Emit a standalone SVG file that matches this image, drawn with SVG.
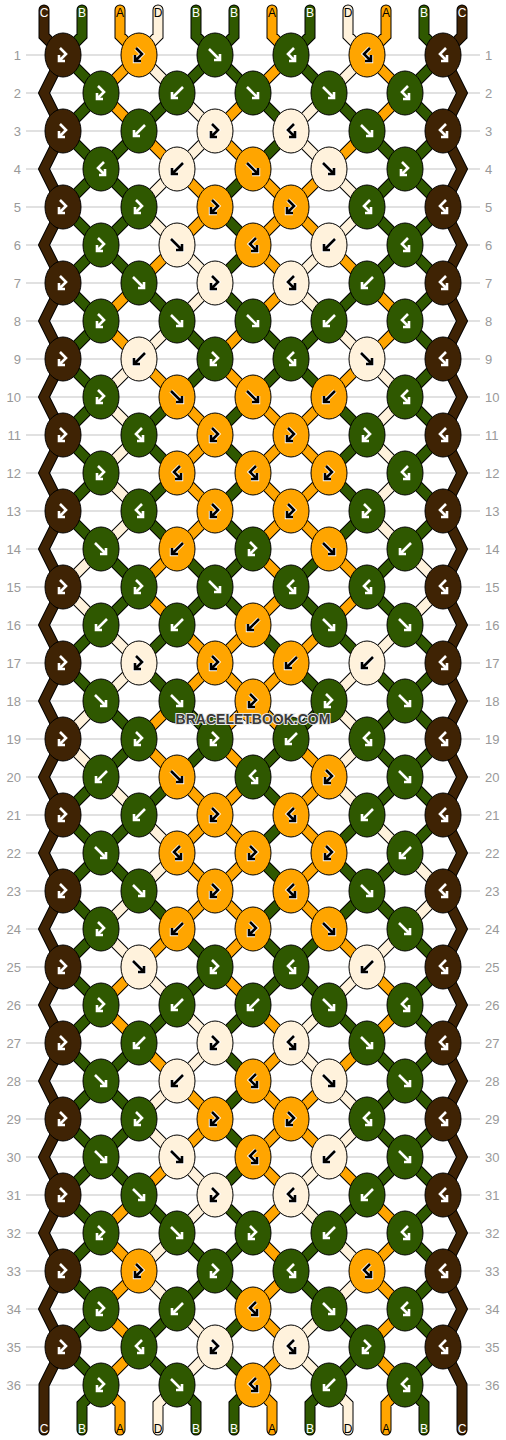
<svg xmlns="http://www.w3.org/2000/svg" xmlns:xlink="http://www.w3.org/1999/xlink" width="506" height="1440" viewBox="0 0 506 1440">
<style>
.ol{fill:none;stroke:#000;stroke-width:11;stroke-linecap:round;stroke-linejoin:miter}
.sC,.sB,.sA,.sD{fill:none;stroke-width:9;stroke-linecap:round;stroke-linejoin:miter}
.sC{stroke:#3f2304}.sB{stroke:#2f5800}.sA{stroke:#ffa500}.sD{stroke:#fff2dc}
.C{fill:#3f2304}.B{fill:#2f5800}.A{fill:#ffa500}.D{fill:#fff2dc}
.iw{fill:none;stroke:#fff;stroke-width:2.6}
.io{fill:none;stroke:#fff;stroke-width:4.4}
.ik{fill:none;stroke:#000;stroke-width:2.6}
.num{font-family:"Liberation Sans",Arial,sans-serif;font-size:13px;fill:#999}
.l{text-anchor:end}
.lab{font-family:"Liberation Sans",Arial,sans-serif;font-size:12px;text-anchor:middle}
.lw{fill:#fff}.lk{fill:#000}
.wm{font-family:"Liberation Sans",Arial,sans-serif;font-size:14px;font-weight:bold;text-anchor:middle;fill:#3a3a3a;stroke:#e8e8e8;stroke-width:2;paint-order:stroke}
</style>
<defs>
<ellipse id="e" rx="18" ry="22" stroke="#000" stroke-width="1"/>
<path id="f" d="M-6-6L5 5M5-1V5H-1"/>
<path id="b" d="M6-6L-5 5M-5-1V5H1"/>
<path id="fb" d="M-3-7L3-1L-4 6M-4 0V6H2"/>
<path id="bf" d="M3-7L-3-1L4 6M4 0V6H-2"/>
<g id="fw"><use href="#f" class="iw"/></g>
<g id="bw"><use href="#b" class="iw"/></g>
<g id="fbw"><use href="#fb" class="iw"/></g>
<g id="bfw"><use href="#bf" class="iw"/></g>
<g id="fk"><use href="#f" class="io"/><use href="#f" class="ik"/></g>
<g id="bk"><use href="#b" class="io"/><use href="#b" class="ik"/></g>
<g id="fbk"><use href="#fb" class="io"/><use href="#fb" class="ik"/></g>
<g id="bfk"><use href="#bf" class="io"/><use href="#bf" class="ik"/></g>
<path id="pC" d="M44 10V36l19 19l-19 38l19 38l-19 38l19 38l-19 38l19 38l-19 38l19 38l-19 38l19 38l-19 38l19 38l-19 38l19 38l-19 38l19 38l-19 38l19 38l-19 38l19 38l-19 38l19 38l-19 38l19 38l-19 38l19 38l-19 38l19 38l-19 38l19 38l-19 38l19 38l-19 38l19 38l-19 38V1430M462 10V36l-19 19l19 38l-19 38l19 38l-19 38l19 38l-19 38l19 38l-19 38l19 38l-19 38l19 38l-19 38l19 38l-19 38l19 38l-19 38l19 38l-19 38l19 38l-19 38l19 38l-19 38l19 38l-19 38l19 38l-19 38l19 38l-19 38l19 38l-19 38l19 38l-19 38l19 38l-19 38l19 38V1430"/>
<path id="pB" d="M82 10V36l-19 19M196 10V36l19 19M234 10V36l-19 19M310 10V36l-19 19M424 10V36l19 19
M63 55l38 38M215 55l-38 38M215 55l38 38M291 55l38 38M443 55l-38 38
M101 93l-38 38M177 93l-38 38M253 93l38 38M329 93l38 38M405 93l38 38
M63 131l38 38M139 131l-38 38M291 131l-38 38M367 131l38 38M443 131l-38 38
M101 169l-38 38M101 169l38 38M253 169l-38 38M405 169l-38 38M405 169l38 38
M63 207l38 38M139 207l-38 38M215 207l38 38M367 207l38 38M443 207l-38 38
M101 245l-38 38M101 245l38 38M253 245l-38 38M405 245l-38 38M405 245l38 38
M63 283l38 38M139 283l38 38M215 283l38 38M367 283l-38 38M443 283l-38 38
M101 321l-38 38M177 321l38 38M253 321l38 38M329 321l-38 38M405 321l38 38
M63 359l38 38M215 359l-38 38M291 359l-38 38M291 359l38 38M443 359l-38 38
M101 397l-38 38M177 397l-38 38M253 397l-38 38M329 397l38 38M405 397l38 38
M63 435l38 38M139 435l38 38M215 435l38 38M367 435l-38 38M443 435l-38 38
M101 473l-38 38M177 473l-38 38M253 473l-38 38M329 473l38 38M405 473l38 38
M63 511l38 38M139 511l38 38M215 511l38 38M367 511l-38 38M443 511l-38 38
M101 549l38 38M177 549l38 38M253 549l-38 38M329 549l-38 38M405 549l-38 38
M139 587l-38 38M215 587l-38 38M215 587l38 38M291 587l38 38M367 587l38 38
M101 625l-38 38M177 625l-38 38M253 625l38 38M329 625l38 38M405 625l38 38
M63 663l38 38M139 663l38 38M291 663l38 38M367 663l38 38M443 663l-38 38
M101 701l38 38M177 701l38 38M329 701l-38 38M405 701l-38 38M405 701l38 38
M139 739l-38 38M215 739l-38 38M291 739l-38 38M367 739l38 38M443 739l-38 38
M101 777l-38 38M177 777l-38 38M253 777l38 38M405 777l-38 38M405 777l38 38
M63 815l38 38M139 815l-38 38M291 815l-38 38M367 815l-38 38M443 815l-38 38
M101 853l-38 38M101 853l38 38M253 853l38 38M329 853l38 38M405 853l-38 38
M63 891l38 38M139 891l38 38M291 891l-38 38M367 891l-38 38M367 891l38 38
M101 929l-38 38M177 929l38 38M253 929l38 38M329 929l-38 38M405 929l38 38
M63 967l38 38M215 967l-38 38M291 967l-38 38M291 967l38 38M443 967l-38 38
M101 1005l-38 38M177 1005l-38 38M253 1005l-38 38M329 1005l38 38M405 1005l38 38
M63 1043l38 38M139 1043l-38 38M215 1043l38 38M367 1043l38 38M443 1043l-38 38
M101 1081l-38 38M101 1081l38 38M253 1081l-38 38M405 1081l-38 38M405 1081l38 38
M63 1119l38 38M139 1119l-38 38M215 1119l38 38M367 1119l38 38M443 1119l-38 38
M101 1157l-38 38M101 1157l38 38M253 1157l-38 38M405 1157l-38 38M405 1157l38 38
M63 1195l38 38M139 1195l38 38M215 1195l38 38M367 1195l-38 38M443 1195l-38 38
M101 1233l-38 38M177 1233l38 38M253 1233l-38 38M329 1233l-38 38M405 1233l38 38
M63 1271l38 38M215 1271l-38 38M215 1271l38 38M291 1271l38 38M443 1271l-38 38
M101 1309l-38 38M177 1309l-38 38M253 1309l-38 38M329 1309l38 38M405 1309l38 38
M63 1347l38 38M139 1347l38 38M215 1347l38 38M367 1347l-38 38M443 1347l-38 38
M101 1385l-19 19V1430M177 1385l19 19V1430M253 1385l-19 19V1430M329 1385l-19 19V1430M405 1385l19 19V1430"/>
<path id="pA" d="M120 10V36l19 19M272 10V36l19 19M386 10V36l-19 19
M139 55l-38 38M291 55l-38 38M367 55l38 38
M101 93l38 38M253 93l-38 38M405 93l-38 38
M139 131l38 38M215 131l38 38M367 131l-38 38
M177 169l38 38M253 169l38 38M329 169l-38 38
M215 207l-38 38M291 207l-38 38M291 207l38 38
M177 245l-38 38M253 245l38 38M329 245l38 38
M139 283l-38 38M291 283l-38 38M367 283l38 38
M101 321l38 38M253 321l-38 38M405 321l-38 38
M139 359l38 38M215 359l38 38M367 359l-38 38
M177 397l38 38M253 397l38 38M329 397l-38 38
M215 435l-38 38M291 435l-38 38M291 435l38 38
M177 473l38 38M253 473l38 38M329 473l-38 38
M215 511l-38 38M291 511l-38 38M291 511l38 38
M177 549l-38 38M253 549l38 38M329 549l38 38
M139 587l38 38M291 587l-38 38M367 587l-38 38
M177 625l38 38M253 625l-38 38M329 625l-38 38
M215 663l-38 38M215 663l38 38M291 663l-38 38
M177 701l-38 38M253 701l-38 38M253 701l38 38
M139 739l38 38M215 739l38 38M291 739l38 38
M177 777l38 38M253 777l-38 38M329 777l-38 38
M215 815l-38 38M215 815l38 38M291 815l38 38
M177 853l38 38M253 853l-38 38M329 853l-38 38
M215 891l-38 38M215 891l38 38M291 891l38 38
M177 929l-38 38M253 929l-38 38M329 929l38 38
M139 967l-38 38M215 967l38 38M367 967l38 38
M101 1005l38 38M253 1005l38 38M405 1005l-38 38
M139 1043l38 38M291 1043l-38 38M367 1043l-38 38
M177 1081l38 38M253 1081l38 38M329 1081l-38 38
M215 1119l-38 38M291 1119l-38 38M291 1119l38 38
M177 1157l-38 38M253 1157l38 38M329 1157l38 38
M139 1195l-38 38M291 1195l-38 38M367 1195l38 38
M101 1233l38 38M253 1233l38 38M405 1233l-38 38
M139 1271l-38 38M291 1271l-38 38M367 1271l38 38
M101 1309l38 38M253 1309l38 38M405 1309l-38 38
M139 1347l-38 38M291 1347l-38 38M367 1347l38 38
M101 1385l19 19V1430M253 1385l19 19V1430M405 1385l-19 19V1430"/>
<path id="pD" d="M158 10V36l-19 19M348 10V36l19 19
M139 55l38 38M367 55l-38 38
M177 93l38 38M329 93l-38 38
M215 131l-38 38M291 131l38 38
M177 169l-38 38M329 169l38 38
M139 207l38 38M367 207l-38 38
M177 245l38 38M329 245l-38 38
M215 283l-38 38M291 283l38 38
M177 321l-38 38M329 321l38 38
M139 359l-38 38M367 359l38 38
M101 397l38 38M405 397l-38 38
M139 435l-38 38M367 435l38 38
M101 473l38 38M405 473l-38 38
M139 511l-38 38M367 511l38 38
M101 549l-38 38M405 549l38 38
M63 587l38 38M443 587l-38 38
M101 625l38 38M405 625l-38 38
M139 663l-38 38M367 663l-38 38
M101 701l-38 38M329 701l38 38
M63 739l38 38M367 739l-38 38
M101 777l38 38M329 777l38 38
M139 815l38 38M367 815l38 38
M177 853l-38 38M405 853l38 38
M139 891l-38 38M443 891l-38 38
M101 929l38 38M405 929l-38 38
M139 967l38 38M367 967l-38 38
M177 1005l38 38M329 1005l-38 38
M215 1043l-38 38M291 1043l38 38
M177 1081l-38 38M329 1081l38 38
M139 1119l38 38M367 1119l-38 38
M177 1157l38 38M329 1157l-38 38
M215 1195l-38 38M291 1195l38 38
M177 1233l-38 38M329 1233l38 38
M139 1271l38 38M367 1271l-38 38
M177 1309l38 38M329 1309l-38 38
M215 1347l-38 38M291 1347l38 38
M177 1385l-19 19V1430M329 1385l19 19V1430"/>
</defs>
<rect width="506" height="1440" fill="#fff"/>
<g id="grid">
<path fill="none" stroke="#c4c4c4" stroke-width="1.2" d="M26 55H480M26 93H480M26 131H480M26 169H480M26 207H480M26 245H480M26 283H480M26 321H480M26 359H480M26 397H480M26 435H480M26 473H480M26 511H480M26 549H480M26 587H480M26 625H480M26 663H480M26 701H480M26 739H480M26 777H480M26 815H480M26 853H480M26 891H480M26 929H480M26 967H480M26 1005H480M26 1043H480M26 1081H480M26 1119H480M26 1157H480M26 1195H480M26 1233H480M26 1271H480M26 1309H480M26 1347H480M26 1385H480"/>
<g class="num">
<text class="l" x="21" y="60">1</text><text x="485" y="60">1</text>
<text class="l" x="21" y="98">2</text><text x="485" y="98">2</text>
<text class="l" x="21" y="136">3</text><text x="485" y="136">3</text>
<text class="l" x="21" y="174">4</text><text x="485" y="174">4</text>
<text class="l" x="21" y="212">5</text><text x="485" y="212">5</text>
<text class="l" x="21" y="250">6</text><text x="485" y="250">6</text>
<text class="l" x="21" y="288">7</text><text x="485" y="288">7</text>
<text class="l" x="21" y="326">8</text><text x="485" y="326">8</text>
<text class="l" x="21" y="364">9</text><text x="485" y="364">9</text>
<text class="l" x="21" y="402">10</text><text x="485" y="402">10</text>
<text class="l" x="21" y="440">11</text><text x="485" y="440">11</text>
<text class="l" x="21" y="478">12</text><text x="485" y="478">12</text>
<text class="l" x="21" y="516">13</text><text x="485" y="516">13</text>
<text class="l" x="21" y="554">14</text><text x="485" y="554">14</text>
<text class="l" x="21" y="592">15</text><text x="485" y="592">15</text>
<text class="l" x="21" y="630">16</text><text x="485" y="630">16</text>
<text class="l" x="21" y="668">17</text><text x="485" y="668">17</text>
<text class="l" x="21" y="706">18</text><text x="485" y="706">18</text>
<text class="l" x="21" y="744">19</text><text x="485" y="744">19</text>
<text class="l" x="21" y="782">20</text><text x="485" y="782">20</text>
<text class="l" x="21" y="820">21</text><text x="485" y="820">21</text>
<text class="l" x="21" y="858">22</text><text x="485" y="858">22</text>
<text class="l" x="21" y="896">23</text><text x="485" y="896">23</text>
<text class="l" x="21" y="934">24</text><text x="485" y="934">24</text>
<text class="l" x="21" y="972">25</text><text x="485" y="972">25</text>
<text class="l" x="21" y="1010">26</text><text x="485" y="1010">26</text>
<text class="l" x="21" y="1048">27</text><text x="485" y="1048">27</text>
<text class="l" x="21" y="1086">28</text><text x="485" y="1086">28</text>
<text class="l" x="21" y="1124">29</text><text x="485" y="1124">29</text>
<text class="l" x="21" y="1162">30</text><text x="485" y="1162">30</text>
<text class="l" x="21" y="1200">31</text><text x="485" y="1200">31</text>
<text class="l" x="21" y="1238">32</text><text x="485" y="1238">32</text>
<text class="l" x="21" y="1276">33</text><text x="485" y="1276">33</text>
<text class="l" x="21" y="1314">34</text><text x="485" y="1314">34</text>
<text class="l" x="21" y="1352">35</text><text x="485" y="1352">35</text>
<text class="l" x="21" y="1390">36</text><text x="485" y="1390">36</text>
</g>
</g>
<g id="connectors">
<use href="#pC" class="ol"/><use href="#pB" class="ol"/><use href="#pA" class="ol"/><use href="#pD" class="ol"/>
<use href="#pC" class="sC"/><use href="#pB" class="sB"/><use href="#pA" class="sA"/><use href="#pD" class="sD"/>
</g>
<g id="labels" class="lab">
<text class="lw" x="44" y="17">C</text><text class="lw" x="82" y="17">B</text><text class="lk" x="120" y="17">A</text><text class="lk" x="158" y="17">D</text><text class="lw" x="196" y="17">B</text><text class="lw" x="234" y="17">B</text><text class="lk" x="272" y="17">A</text><text class="lw" x="310" y="17">B</text><text class="lk" x="348" y="17">D</text><text class="lk" x="386" y="17">A</text><text class="lw" x="424" y="17">B</text><text class="lw" x="462" y="17">C</text>
<text class="lw" x="44" y="1433">C</text><text class="lw" x="82" y="1433">B</text><text class="lk" x="120" y="1433">A</text><text class="lk" x="158" y="1433">D</text><text class="lw" x="196" y="1433">B</text><text class="lw" x="234" y="1433">B</text><text class="lk" x="272" y="1433">A</text><text class="lw" x="310" y="1433">B</text><text class="lk" x="348" y="1433">D</text><text class="lk" x="386" y="1433">A</text><text class="lw" x="424" y="1433">B</text><text class="lw" x="462" y="1433">C</text>
</g>
<g id="knots">
<g id="k1-1"><use href="#e" x="63" y="55" class="C"/><use href="#fbw" x="63" y="55"/></g>
<g id="k1-2"><use href="#e" x="139" y="55" class="A"/><use href="#fbk" x="139" y="55"/></g>
<g id="k1-3"><use href="#e" x="215" y="55" class="B"/><use href="#fw" x="215" y="55"/></g>
<g id="k1-4"><use href="#e" x="291" y="55" class="B"/><use href="#bfw" x="291" y="55"/></g>
<g id="k1-5"><use href="#e" x="367" y="55" class="A"/><use href="#bfk" x="367" y="55"/></g>
<g id="k1-6"><use href="#e" x="443" y="55" class="C"/><use href="#bfw" x="443" y="55"/></g>
<g id="k2-1"><use href="#e" x="101" y="93" class="B"/><use href="#fbw" x="101" y="93"/></g>
<g id="k2-2"><use href="#e" x="177" y="93" class="B"/><use href="#bw" x="177" y="93"/></g>
<g id="k2-3"><use href="#e" x="253" y="93" class="B"/><use href="#fw" x="253" y="93"/></g>
<g id="k2-4"><use href="#e" x="329" y="93" class="B"/><use href="#fw" x="329" y="93"/></g>
<g id="k2-5"><use href="#e" x="405" y="93" class="B"/><use href="#bfw" x="405" y="93"/></g>
<g id="k3-1"><use href="#e" x="63" y="131" class="C"/><use href="#fbw" x="63" y="131"/></g>
<g id="k3-2"><use href="#e" x="139" y="131" class="B"/><use href="#bw" x="139" y="131"/></g>
<g id="k3-3"><use href="#e" x="215" y="131" class="D"/><use href="#fbk" x="215" y="131"/></g>
<g id="k3-4"><use href="#e" x="291" y="131" class="D"/><use href="#bfk" x="291" y="131"/></g>
<g id="k3-5"><use href="#e" x="367" y="131" class="B"/><use href="#fw" x="367" y="131"/></g>
<g id="k3-6"><use href="#e" x="443" y="131" class="C"/><use href="#bfw" x="443" y="131"/></g>
<g id="k4-1"><use href="#e" x="101" y="169" class="B"/><use href="#bfw" x="101" y="169"/></g>
<g id="k4-2"><use href="#e" x="177" y="169" class="D"/><use href="#bk" x="177" y="169"/></g>
<g id="k4-3"><use href="#e" x="253" y="169" class="A"/><use href="#fk" x="253" y="169"/></g>
<g id="k4-4"><use href="#e" x="329" y="169" class="D"/><use href="#fk" x="329" y="169"/></g>
<g id="k4-5"><use href="#e" x="405" y="169" class="B"/><use href="#fbw" x="405" y="169"/></g>
<g id="k5-1"><use href="#e" x="63" y="207" class="C"/><use href="#fbw" x="63" y="207"/></g>
<g id="k5-2"><use href="#e" x="139" y="207" class="B"/><use href="#fbw" x="139" y="207"/></g>
<g id="k5-3"><use href="#e" x="215" y="207" class="A"/><use href="#fbk" x="215" y="207"/></g>
<g id="k5-4"><use href="#e" x="291" y="207" class="A"/><use href="#fbk" x="291" y="207"/></g>
<g id="k5-5"><use href="#e" x="367" y="207" class="B"/><use href="#bfw" x="367" y="207"/></g>
<g id="k5-6"><use href="#e" x="443" y="207" class="C"/><use href="#bfw" x="443" y="207"/></g>
<g id="k6-1"><use href="#e" x="101" y="245" class="B"/><use href="#fbw" x="101" y="245"/></g>
<g id="k6-2"><use href="#e" x="177" y="245" class="D"/><use href="#fk" x="177" y="245"/></g>
<g id="k6-3"><use href="#e" x="253" y="245" class="A"/><use href="#bfk" x="253" y="245"/></g>
<g id="k6-4"><use href="#e" x="329" y="245" class="D"/><use href="#bk" x="329" y="245"/></g>
<g id="k6-5"><use href="#e" x="405" y="245" class="B"/><use href="#bfw" x="405" y="245"/></g>
<g id="k7-1"><use href="#e" x="63" y="283" class="C"/><use href="#fbw" x="63" y="283"/></g>
<g id="k7-2"><use href="#e" x="139" y="283" class="B"/><use href="#fw" x="139" y="283"/></g>
<g id="k7-3"><use href="#e" x="215" y="283" class="D"/><use href="#fbk" x="215" y="283"/></g>
<g id="k7-4"><use href="#e" x="291" y="283" class="D"/><use href="#bfk" x="291" y="283"/></g>
<g id="k7-5"><use href="#e" x="367" y="283" class="B"/><use href="#bw" x="367" y="283"/></g>
<g id="k7-6"><use href="#e" x="443" y="283" class="C"/><use href="#bfw" x="443" y="283"/></g>
<g id="k8-1"><use href="#e" x="101" y="321" class="B"/><use href="#fbw" x="101" y="321"/></g>
<g id="k8-2"><use href="#e" x="177" y="321" class="B"/><use href="#fw" x="177" y="321"/></g>
<g id="k8-3"><use href="#e" x="253" y="321" class="B"/><use href="#fw" x="253" y="321"/></g>
<g id="k8-4"><use href="#e" x="329" y="321" class="B"/><use href="#bw" x="329" y="321"/></g>
<g id="k8-5"><use href="#e" x="405" y="321" class="B"/><use href="#bfw" x="405" y="321"/></g>
<g id="k9-1"><use href="#e" x="63" y="359" class="C"/><use href="#fbw" x="63" y="359"/></g>
<g id="k9-2"><use href="#e" x="139" y="359" class="D"/><use href="#bk" x="139" y="359"/></g>
<g id="k9-3"><use href="#e" x="215" y="359" class="B"/><use href="#fbw" x="215" y="359"/></g>
<g id="k9-4"><use href="#e" x="291" y="359" class="B"/><use href="#bfw" x="291" y="359"/></g>
<g id="k9-5"><use href="#e" x="367" y="359" class="D"/><use href="#fk" x="367" y="359"/></g>
<g id="k9-6"><use href="#e" x="443" y="359" class="C"/><use href="#bfw" x="443" y="359"/></g>
<g id="k10-1"><use href="#e" x="101" y="397" class="B"/><use href="#fbw" x="101" y="397"/></g>
<g id="k10-2"><use href="#e" x="177" y="397" class="A"/><use href="#fk" x="177" y="397"/></g>
<g id="k10-3"><use href="#e" x="253" y="397" class="A"/><use href="#fk" x="253" y="397"/></g>
<g id="k10-4"><use href="#e" x="329" y="397" class="A"/><use href="#bk" x="329" y="397"/></g>
<g id="k10-5"><use href="#e" x="405" y="397" class="B"/><use href="#bfw" x="405" y="397"/></g>
<g id="k11-1"><use href="#e" x="63" y="435" class="C"/><use href="#fbw" x="63" y="435"/></g>
<g id="k11-2"><use href="#e" x="139" y="435" class="B"/><use href="#bfw" x="139" y="435"/></g>
<g id="k11-3"><use href="#e" x="215" y="435" class="A"/><use href="#fbk" x="215" y="435"/></g>
<g id="k11-4"><use href="#e" x="291" y="435" class="A"/><use href="#fbk" x="291" y="435"/></g>
<g id="k11-5"><use href="#e" x="367" y="435" class="B"/><use href="#fbw" x="367" y="435"/></g>
<g id="k11-6"><use href="#e" x="443" y="435" class="C"/><use href="#bfw" x="443" y="435"/></g>
<g id="k12-1"><use href="#e" x="101" y="473" class="B"/><use href="#fbw" x="101" y="473"/></g>
<g id="k12-2"><use href="#e" x="177" y="473" class="A"/><use href="#bfk" x="177" y="473"/></g>
<g id="k12-3"><use href="#e" x="253" y="473" class="A"/><use href="#bfk" x="253" y="473"/></g>
<g id="k12-4"><use href="#e" x="329" y="473" class="A"/><use href="#fbk" x="329" y="473"/></g>
<g id="k12-5"><use href="#e" x="405" y="473" class="B"/><use href="#bfw" x="405" y="473"/></g>
<g id="k13-1"><use href="#e" x="63" y="511" class="C"/><use href="#fbw" x="63" y="511"/></g>
<g id="k13-2"><use href="#e" x="139" y="511" class="B"/><use href="#bfw" x="139" y="511"/></g>
<g id="k13-3"><use href="#e" x="215" y="511" class="A"/><use href="#fbk" x="215" y="511"/></g>
<g id="k13-4"><use href="#e" x="291" y="511" class="A"/><use href="#fbk" x="291" y="511"/></g>
<g id="k13-5"><use href="#e" x="367" y="511" class="B"/><use href="#fbw" x="367" y="511"/></g>
<g id="k13-6"><use href="#e" x="443" y="511" class="C"/><use href="#bfw" x="443" y="511"/></g>
<g id="k14-1"><use href="#e" x="101" y="549" class="B"/><use href="#fw" x="101" y="549"/></g>
<g id="k14-2"><use href="#e" x="177" y="549" class="A"/><use href="#bk" x="177" y="549"/></g>
<g id="k14-3"><use href="#e" x="253" y="549" class="B"/><use href="#fbw" x="253" y="549"/></g>
<g id="k14-4"><use href="#e" x="329" y="549" class="A"/><use href="#fk" x="329" y="549"/></g>
<g id="k14-5"><use href="#e" x="405" y="549" class="B"/><use href="#bw" x="405" y="549"/></g>
<g id="k15-1"><use href="#e" x="63" y="587" class="C"/><use href="#fbw" x="63" y="587"/></g>
<g id="k15-2"><use href="#e" x="139" y="587" class="B"/><use href="#fbw" x="139" y="587"/></g>
<g id="k15-3"><use href="#e" x="215" y="587" class="B"/><use href="#fw" x="215" y="587"/></g>
<g id="k15-4"><use href="#e" x="291" y="587" class="B"/><use href="#bfw" x="291" y="587"/></g>
<g id="k15-5"><use href="#e" x="367" y="587" class="B"/><use href="#bfw" x="367" y="587"/></g>
<g id="k15-6"><use href="#e" x="443" y="587" class="C"/><use href="#bfw" x="443" y="587"/></g>
<g id="k16-1"><use href="#e" x="101" y="625" class="B"/><use href="#bw" x="101" y="625"/></g>
<g id="k16-2"><use href="#e" x="177" y="625" class="B"/><use href="#bw" x="177" y="625"/></g>
<g id="k16-3"><use href="#e" x="253" y="625" class="A"/><use href="#bk" x="253" y="625"/></g>
<g id="k16-4"><use href="#e" x="329" y="625" class="B"/><use href="#fw" x="329" y="625"/></g>
<g id="k16-5"><use href="#e" x="405" y="625" class="B"/><use href="#fw" x="405" y="625"/></g>
<g id="k17-1"><use href="#e" x="63" y="663" class="C"/><use href="#fbw" x="63" y="663"/></g>
<g id="k17-2"><use href="#e" x="139" y="663" class="D"/><use href="#fbk" x="139" y="663"/></g>
<g id="k17-3"><use href="#e" x="215" y="663" class="A"/><use href="#fbk" x="215" y="663"/></g>
<g id="k17-4"><use href="#e" x="291" y="663" class="A"/><use href="#bk" x="291" y="663"/></g>
<g id="k17-5"><use href="#e" x="367" y="663" class="D"/><use href="#bk" x="367" y="663"/></g>
<g id="k17-6"><use href="#e" x="443" y="663" class="C"/><use href="#bfw" x="443" y="663"/></g>
<g id="k18-1"><use href="#e" x="101" y="701" class="B"/><use href="#fw" x="101" y="701"/></g>
<g id="k18-2"><use href="#e" x="177" y="701" class="B"/><use href="#fw" x="177" y="701"/></g>
<g id="k18-3"><use href="#e" x="253" y="701" class="A"/><use href="#fbk" x="253" y="701"/></g>
<g id="k18-4"><use href="#e" x="329" y="701" class="B"/><use href="#fbw" x="329" y="701"/></g>
<g id="k18-5"><use href="#e" x="405" y="701" class="B"/><use href="#fw" x="405" y="701"/></g>
<g id="k19-1"><use href="#e" x="63" y="739" class="C"/><use href="#fbw" x="63" y="739"/></g>
<g id="k19-2"><use href="#e" x="139" y="739" class="B"/><use href="#fbw" x="139" y="739"/></g>
<g id="k19-3"><use href="#e" x="215" y="739" class="B"/><use href="#fbw" x="215" y="739"/></g>
<g id="k19-4"><use href="#e" x="291" y="739" class="B"/><use href="#bw" x="291" y="739"/></g>
<g id="k19-5"><use href="#e" x="367" y="739" class="B"/><use href="#bfw" x="367" y="739"/></g>
<g id="k19-6"><use href="#e" x="443" y="739" class="C"/><use href="#bfw" x="443" y="739"/></g>
<g id="k20-1"><use href="#e" x="101" y="777" class="B"/><use href="#bw" x="101" y="777"/></g>
<g id="k20-2"><use href="#e" x="177" y="777" class="A"/><use href="#fk" x="177" y="777"/></g>
<g id="k20-3"><use href="#e" x="253" y="777" class="B"/><use href="#bfw" x="253" y="777"/></g>
<g id="k20-4"><use href="#e" x="329" y="777" class="A"/><use href="#fbk" x="329" y="777"/></g>
<g id="k20-5"><use href="#e" x="405" y="777" class="B"/><use href="#fw" x="405" y="777"/></g>
<g id="k21-1"><use href="#e" x="63" y="815" class="C"/><use href="#fbw" x="63" y="815"/></g>
<g id="k21-2"><use href="#e" x="139" y="815" class="B"/><use href="#bw" x="139" y="815"/></g>
<g id="k21-3"><use href="#e" x="215" y="815" class="A"/><use href="#fbk" x="215" y="815"/></g>
<g id="k21-4"><use href="#e" x="291" y="815" class="A"/><use href="#bfk" x="291" y="815"/></g>
<g id="k21-5"><use href="#e" x="367" y="815" class="B"/><use href="#bw" x="367" y="815"/></g>
<g id="k21-6"><use href="#e" x="443" y="815" class="C"/><use href="#bfw" x="443" y="815"/></g>
<g id="k22-1"><use href="#e" x="101" y="853" class="B"/><use href="#fw" x="101" y="853"/></g>
<g id="k22-2"><use href="#e" x="177" y="853" class="A"/><use href="#bfk" x="177" y="853"/></g>
<g id="k22-3"><use href="#e" x="253" y="853" class="A"/><use href="#fbk" x="253" y="853"/></g>
<g id="k22-4"><use href="#e" x="329" y="853" class="A"/><use href="#fbk" x="329" y="853"/></g>
<g id="k22-5"><use href="#e" x="405" y="853" class="B"/><use href="#bw" x="405" y="853"/></g>
<g id="k23-1"><use href="#e" x="63" y="891" class="C"/><use href="#fbw" x="63" y="891"/></g>
<g id="k23-2"><use href="#e" x="139" y="891" class="B"/><use href="#fw" x="139" y="891"/></g>
<g id="k23-3"><use href="#e" x="215" y="891" class="A"/><use href="#fbk" x="215" y="891"/></g>
<g id="k23-4"><use href="#e" x="291" y="891" class="A"/><use href="#bfk" x="291" y="891"/></g>
<g id="k23-5"><use href="#e" x="367" y="891" class="B"/><use href="#fw" x="367" y="891"/></g>
<g id="k23-6"><use href="#e" x="443" y="891" class="C"/><use href="#bfw" x="443" y="891"/></g>
<g id="k24-1"><use href="#e" x="101" y="929" class="B"/><use href="#fbw" x="101" y="929"/></g>
<g id="k24-2"><use href="#e" x="177" y="929" class="A"/><use href="#bk" x="177" y="929"/></g>
<g id="k24-3"><use href="#e" x="253" y="929" class="A"/><use href="#fbk" x="253" y="929"/></g>
<g id="k24-4"><use href="#e" x="329" y="929" class="A"/><use href="#fk" x="329" y="929"/></g>
<g id="k24-5"><use href="#e" x="405" y="929" class="B"/><use href="#fw" x="405" y="929"/></g>
<g id="k25-1"><use href="#e" x="63" y="967" class="C"/><use href="#fbw" x="63" y="967"/></g>
<g id="k25-2"><use href="#e" x="139" y="967" class="D"/><use href="#fk" x="139" y="967"/></g>
<g id="k25-3"><use href="#e" x="215" y="967" class="B"/><use href="#fbw" x="215" y="967"/></g>
<g id="k25-4"><use href="#e" x="291" y="967" class="B"/><use href="#bfw" x="291" y="967"/></g>
<g id="k25-5"><use href="#e" x="367" y="967" class="D"/><use href="#bk" x="367" y="967"/></g>
<g id="k25-6"><use href="#e" x="443" y="967" class="C"/><use href="#bfw" x="443" y="967"/></g>
<g id="k26-1"><use href="#e" x="101" y="1005" class="B"/><use href="#fbw" x="101" y="1005"/></g>
<g id="k26-2"><use href="#e" x="177" y="1005" class="B"/><use href="#bw" x="177" y="1005"/></g>
<g id="k26-3"><use href="#e" x="253" y="1005" class="B"/><use href="#bw" x="253" y="1005"/></g>
<g id="k26-4"><use href="#e" x="329" y="1005" class="B"/><use href="#fw" x="329" y="1005"/></g>
<g id="k26-5"><use href="#e" x="405" y="1005" class="B"/><use href="#bfw" x="405" y="1005"/></g>
<g id="k27-1"><use href="#e" x="63" y="1043" class="C"/><use href="#fbw" x="63" y="1043"/></g>
<g id="k27-2"><use href="#e" x="139" y="1043" class="B"/><use href="#bw" x="139" y="1043"/></g>
<g id="k27-3"><use href="#e" x="215" y="1043" class="D"/><use href="#fbk" x="215" y="1043"/></g>
<g id="k27-4"><use href="#e" x="291" y="1043" class="D"/><use href="#bfk" x="291" y="1043"/></g>
<g id="k27-5"><use href="#e" x="367" y="1043" class="B"/><use href="#fw" x="367" y="1043"/></g>
<g id="k27-6"><use href="#e" x="443" y="1043" class="C"/><use href="#bfw" x="443" y="1043"/></g>
<g id="k28-1"><use href="#e" x="101" y="1081" class="B"/><use href="#fw" x="101" y="1081"/></g>
<g id="k28-2"><use href="#e" x="177" y="1081" class="D"/><use href="#bk" x="177" y="1081"/></g>
<g id="k28-3"><use href="#e" x="253" y="1081" class="A"/><use href="#bfk" x="253" y="1081"/></g>
<g id="k28-4"><use href="#e" x="329" y="1081" class="D"/><use href="#fk" x="329" y="1081"/></g>
<g id="k28-5"><use href="#e" x="405" y="1081" class="B"/><use href="#fw" x="405" y="1081"/></g>
<g id="k29-1"><use href="#e" x="63" y="1119" class="C"/><use href="#fbw" x="63" y="1119"/></g>
<g id="k29-2"><use href="#e" x="139" y="1119" class="B"/><use href="#fbw" x="139" y="1119"/></g>
<g id="k29-3"><use href="#e" x="215" y="1119" class="A"/><use href="#fbk" x="215" y="1119"/></g>
<g id="k29-4"><use href="#e" x="291" y="1119" class="A"/><use href="#fbk" x="291" y="1119"/></g>
<g id="k29-5"><use href="#e" x="367" y="1119" class="B"/><use href="#bfw" x="367" y="1119"/></g>
<g id="k29-6"><use href="#e" x="443" y="1119" class="C"/><use href="#bfw" x="443" y="1119"/></g>
<g id="k30-1"><use href="#e" x="101" y="1157" class="B"/><use href="#fw" x="101" y="1157"/></g>
<g id="k30-2"><use href="#e" x="177" y="1157" class="D"/><use href="#fk" x="177" y="1157"/></g>
<g id="k30-3"><use href="#e" x="253" y="1157" class="A"/><use href="#bfk" x="253" y="1157"/></g>
<g id="k30-4"><use href="#e" x="329" y="1157" class="D"/><use href="#bk" x="329" y="1157"/></g>
<g id="k30-5"><use href="#e" x="405" y="1157" class="B"/><use href="#fw" x="405" y="1157"/></g>
<g id="k31-1"><use href="#e" x="63" y="1195" class="C"/><use href="#fbw" x="63" y="1195"/></g>
<g id="k31-2"><use href="#e" x="139" y="1195" class="B"/><use href="#fw" x="139" y="1195"/></g>
<g id="k31-3"><use href="#e" x="215" y="1195" class="D"/><use href="#fbk" x="215" y="1195"/></g>
<g id="k31-4"><use href="#e" x="291" y="1195" class="D"/><use href="#bfk" x="291" y="1195"/></g>
<g id="k31-5"><use href="#e" x="367" y="1195" class="B"/><use href="#bw" x="367" y="1195"/></g>
<g id="k31-6"><use href="#e" x="443" y="1195" class="C"/><use href="#bfw" x="443" y="1195"/></g>
<g id="k32-1"><use href="#e" x="101" y="1233" class="B"/><use href="#fbw" x="101" y="1233"/></g>
<g id="k32-2"><use href="#e" x="177" y="1233" class="B"/><use href="#fw" x="177" y="1233"/></g>
<g id="k32-3"><use href="#e" x="253" y="1233" class="B"/><use href="#fbw" x="253" y="1233"/></g>
<g id="k32-4"><use href="#e" x="329" y="1233" class="B"/><use href="#bw" x="329" y="1233"/></g>
<g id="k32-5"><use href="#e" x="405" y="1233" class="B"/><use href="#bfw" x="405" y="1233"/></g>
<g id="k33-1"><use href="#e" x="63" y="1271" class="C"/><use href="#fbw" x="63" y="1271"/></g>
<g id="k33-2"><use href="#e" x="139" y="1271" class="A"/><use href="#fbk" x="139" y="1271"/></g>
<g id="k33-3"><use href="#e" x="215" y="1271" class="B"/><use href="#fbw" x="215" y="1271"/></g>
<g id="k33-4"><use href="#e" x="291" y="1271" class="B"/><use href="#bfw" x="291" y="1271"/></g>
<g id="k33-5"><use href="#e" x="367" y="1271" class="A"/><use href="#bfk" x="367" y="1271"/></g>
<g id="k33-6"><use href="#e" x="443" y="1271" class="C"/><use href="#bfw" x="443" y="1271"/></g>
<g id="k34-1"><use href="#e" x="101" y="1309" class="B"/><use href="#fbw" x="101" y="1309"/></g>
<g id="k34-2"><use href="#e" x="177" y="1309" class="B"/><use href="#bw" x="177" y="1309"/></g>
<g id="k34-3"><use href="#e" x="253" y="1309" class="A"/><use href="#bfk" x="253" y="1309"/></g>
<g id="k34-4"><use href="#e" x="329" y="1309" class="B"/><use href="#fw" x="329" y="1309"/></g>
<g id="k34-5"><use href="#e" x="405" y="1309" class="B"/><use href="#bfw" x="405" y="1309"/></g>
<g id="k35-1"><use href="#e" x="63" y="1347" class="C"/><use href="#fbw" x="63" y="1347"/></g>
<g id="k35-2"><use href="#e" x="139" y="1347" class="B"/><use href="#bfw" x="139" y="1347"/></g>
<g id="k35-3"><use href="#e" x="215" y="1347" class="D"/><use href="#fbk" x="215" y="1347"/></g>
<g id="k35-4"><use href="#e" x="291" y="1347" class="D"/><use href="#bfk" x="291" y="1347"/></g>
<g id="k35-5"><use href="#e" x="367" y="1347" class="B"/><use href="#fbw" x="367" y="1347"/></g>
<g id="k35-6"><use href="#e" x="443" y="1347" class="C"/><use href="#bfw" x="443" y="1347"/></g>
<g id="k36-1"><use href="#e" x="101" y="1385" class="B"/><use href="#fbw" x="101" y="1385"/></g>
<g id="k36-2"><use href="#e" x="177" y="1385" class="B"/><use href="#fw" x="177" y="1385"/></g>
<g id="k36-3"><use href="#e" x="253" y="1385" class="A"/><use href="#bfk" x="253" y="1385"/></g>
<g id="k36-4"><use href="#e" x="329" y="1385" class="B"/><use href="#bw" x="329" y="1385"/></g>
<g id="k36-5"><use href="#e" x="405" y="1385" class="B"/><use href="#bfw" x="405" y="1385"/></g>
</g>
<text class="wm" x="253" y="724">BRACELETBOOK.COM</text>
</svg>
